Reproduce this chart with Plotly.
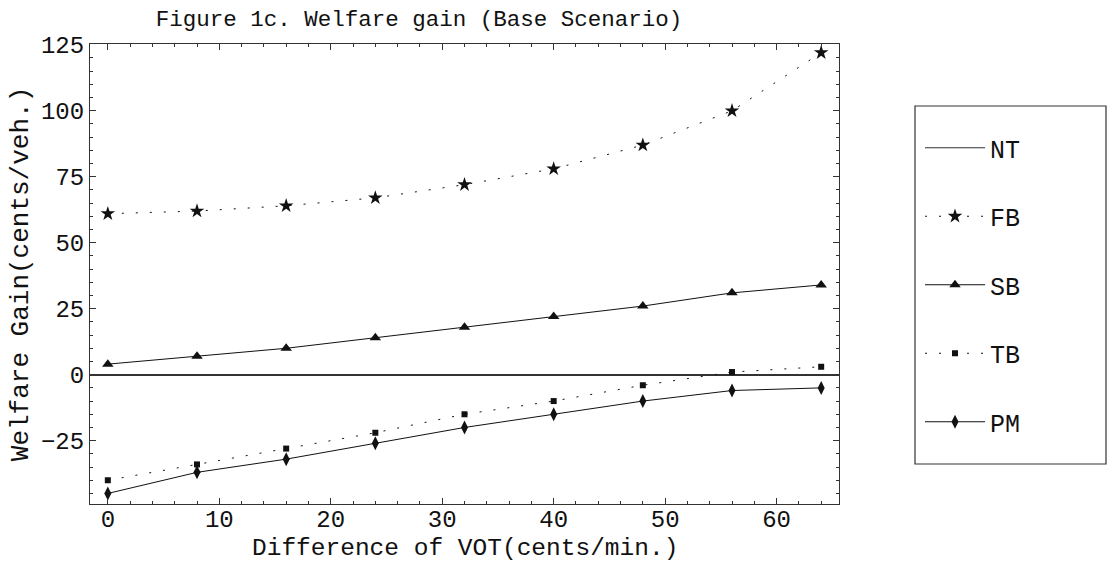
import plotly.graph_objects as go

vot = [0, 8, 16, 24, 32, 40, 48, 56, 64]
nt = [0, 0, 0, 0, 0, 0, 0, 0, 0]
fb = [61, 62, 64, 67, 72, 78, 87, 100, 122]
sb = [4, 7, 10, 14, 18, 22, 26, 31, 34]
tb = [-40, -34, -28, -22, -15, -10, -4, 1, 3]
pm = [-45, -37, -32, -26, -20, -15, -10, -6, -5]

x_ticks = [0, 10, 20, 30, 40, 50, 60]
y_ticks = [-25, 0, 25, 50, 75, 100, 125]

FONT = "Liberation Mono, Courier New, monospace"
BLACK = "#111111"
DOT = "2px,12px"

fig = go.Figure()
fig.add_trace(go.Scatter(x=vot, y=nt, name="NT", mode="lines",
                         line=dict(color="#333333", width=1.2), legendgroup="a"))
fig.add_trace(go.Scatter(x=vot, y=fb, name="FB", mode="lines+markers",
                         line=dict(color=BLACK, width=1, dash=DOT),
                         marker=dict(symbol="star", size=11, color=BLACK), legendgroup="b"))
fig.add_trace(go.Scatter(x=vot, y=sb, name="SB", mode="lines+markers",
                         line=dict(color=BLACK, width=1),
                         marker=dict(symbol="triangle-up", size=10, color=BLACK), legendgroup="c"))
fig.add_trace(go.Scatter(x=vot, y=tb, name="TB", mode="lines+markers",
                         line=dict(color=BLACK, width=1, dash=DOT),
                         marker=dict(symbol="square", size=6, color=BLACK), legendgroup="d"))
fig.add_trace(go.Scatter(x=vot, y=pm, name="PM", mode="lines+markers",
                         line=dict(color=BLACK, width=1),
                         marker=dict(symbol="diamond-tall", size=10, color=BLACK), legendgroup="e"))

axis_common = dict(
    showline=True, linecolor="#333333", linewidth=1, mirror="allticks",
    ticks="inside", ticklen=6, tickcolor="#333333", tickwidth=1,
    showgrid=False, tickfont=dict(family=FONT, size=24, color=BLACK),
    automargin=False,
)

fig.update_layout(
    width=1107, height=561,
    margin=dict(l=90, r=268, t=44, b=57),
    paper_bgcolor="white", plot_bgcolor="white",
    font=dict(family=FONT, color=BLACK),
    title=dict(text="Figure 1c. Welfare gain (Base Scenario)",
               font=dict(family=FONT, size=22.5, color=BLACK),
               x=419 / 1107, xanchor="center", xref="container",
               y=1 - 18 / 561, yanchor="middle", yref="container"),
    xaxis=dict(range=[-1.6, 65.6], tickvals=x_ticks, ticklabelstandoff=-7,
               minor=dict(dtick=2, ticks="inside", ticklen=3, tickcolor="#333333"),
               zeroline=False, **axis_common),
    yaxis=dict(range=[-49, 125.3], tickvals=y_ticks,
               minor=dict(dtick=5, ticks="inside", ticklen=3, tickcolor="#333333"),
               title=dict(text="Welfare Gain(cents/veh.)",
                          font=dict(family=FONT, size=26, color=BLACK), standoff=4),
               zeroline=True, zerolinecolor="#333333", zerolinewidth=1.5,
               **axis_common),
    annotations=[dict(text="Difference of VOT(cents/min.)", xref="paper", yref="paper",
                      x=0.5, y=(504 - 548) / 460, xanchor="center", yanchor="middle",
                      showarrow=False, font=dict(family=FONT, size=24.5, color=BLACK))],
    legend=dict(x=(920 - 90) / 749, xanchor="left", y=(504 - 125) / 460, yanchor="top",
                font=dict(family=FONT, size=25, color=BLACK),
                itemwidth=60, tracegroupgap=33, borderwidth=0, bgcolor="rgba(0,0,0,0)",
                traceorder="grouped"),
    shapes=[dict(type="rect", xref="paper", yref="paper",
                 x0=(915 - 90) / 749, x1=(1106 - 90) / 749,
                 y0=(504 - 464) / 460, y1=(504 - 106) / 460,
                 line=dict(color="#333333", width=1.2), fillcolor="rgba(0,0,0,0)")],
)

fig.write_html("out.html")
